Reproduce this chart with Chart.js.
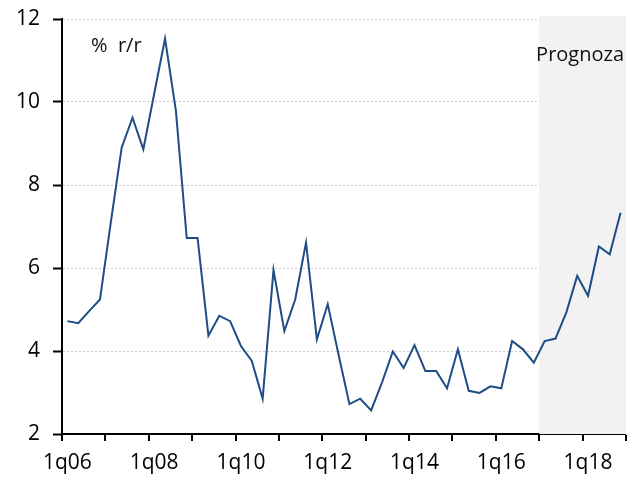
<!DOCTYPE html>
<html>
<head>
<meta charset="utf-8">
<script src="https://cdn.jsdelivr.net/npm/chart.js@4.4.0/dist/chart.umd.min.js"></script>
<style>
html,body{margin:0;padding:0;background:#fff;}
#wrap{width:634px;height:483px;position:relative;}
</style>
</head>
<body>
<div id="wrap"><canvas id="c" width="634" height="483"></canvas></div>
<script>
const years = ['06','07','08','09','10','11','12','13','14','15','16','17','18'];
const quarters = [];
years.forEach(y => { for (let q = 1; q <= 4; q++) quarters.push(q + 'q' + y); });

const inflation = [
  4.72, 4.67, 4.96, 5.24,
  7.10, 8.90, 9.62, 8.86,
  10.20, 11.53, 9.79, 6.72,
  6.72, 4.37, 4.85, 4.72,
  4.12, 3.76, 2.85, 5.95,
  4.48, 5.24, 6.61, 4.28,
  5.13, 3.91, 2.72, 2.85,
  2.57, 3.24, 3.99, 3.59,
  4.14, 3.52, 3.52, 3.10,
  4.04, 3.04, 2.99, 3.15,
  3.10, 4.24, 4.04, 3.72,
  4.24, 4.30, 4.93, 5.81,
  5.33, 6.52, 6.33, 7.33
];
const forecastStart = '1q17';
const yTicks = [2, 4, 6, 8, 10, 12];
const unitLabel = '%  r/r';
const forecastLabel = 'Prognoza';

const FONT = '"Open Sans", "Noto Sans", sans-serif';

const forecastPlugin = {
  id: 'forecast',
  beforeDatasetsDraw(chart) {
    const {ctx, chartArea, scales} = chart;
    const x = scales.x;
    const idx = quarters.indexOf(forecastStart);
    const half = (x.getPixelForValue(1) - x.getPixelForValue(0)) / 2;
    const x0 = x.getPixelForValue(idx) - half;
    ctx.save();
    ctx.fillStyle = '#f2f2f2';
    ctx.fillRect(x0, chartArea.top - 3, chartArea.right - x0, chartArea.bottom - chartArea.top + 3);
    ctx.restore();
  },
  afterDraw(chart) {
    const {ctx, chartArea} = chart;
    ctx.save();
    ctx.fillStyle = '#111';
    ctx.font = '20px ' + FONT;
    ctx.textBaseline = 'alphabetic';
    ctx.textAlign = 'left';
    ctx.fillText(unitLabel, chartArea.left + 29, chartArea.top + 33);
    ctx.textAlign = 'right';
    ctx.fillText(forecastLabel, chartArea.right - 2, chartArea.top + 42);
    ctx.restore();
  }
};

new Chart(document.getElementById('c'), {
  type: 'line',
  data: {
    labels: quarters,
    datasets: [{
      data: inflation,
      borderColor: '#1f4c85',
      borderWidth: 2,
      pointRadius: 0,
      tension: 0,
      fill: false
    }]
  },
  options: {
    responsive: false,
    animation: false,
    devicePixelRatio: 1,
    layout: { padding: { top: 19, right: 8, left: 0, bottom: 0 } },
    plugins: { legend: { display: false }, tooltip: { enabled: false } },
    scales: {
      x: {
        type: 'category',
        offset: true,
        afterFit(s) { s.height = 49; s.paddingLeft = 0; s.paddingRight = 0; },
        grid: {
          offset: true,
          drawOnChartArea: false,
          drawTicks: true,
          tickLength: 7,
          tickWidth: 2,
          tickColor: c => (c.type !== 'tick' || c.index % 4 === 0) ? '#000' : 'rgba(0,0,0,0)',
          lineWidth: 0
        },
        border: { display: true, color: '#000', width: 2 },
        ticks: {
          autoSkip: false,
          maxRotation: 0,
          minRotation: 0,
          padding: 9,
          color: '#000',
          font: { family: FONT, size: 21 },
          callback: (v, i) => (i % 8 === 0 ? quarters[i] : '')
        }
      },
      y: {
        min: 2,
        max: 12,
        afterFit(s) { s.width = 62; s.paddingTop = 0; s.paddingBottom = 0; },
        afterBuildTicks(s) { s.ticks = yTicks.map(v => ({ value: v })); },
        grid: {
          color: c => (c.tick && c.tick.value === 2) ? 'rgba(0,0,0,0)' : '#cccccc',
          lineWidth: 1,
          tickLength: 9,
          tickWidth: 2,
          tickColor: '#000'
        },
        border: { display: true, color: '#000', width: 2, dash: [2, 2] },
        ticks: {
          padding: 13,
          color: '#000',
          font: { family: FONT, size: 21 }
        }
      }
    }
  },
  plugins: [forecastPlugin]
});
</script>
</body>
</html>
